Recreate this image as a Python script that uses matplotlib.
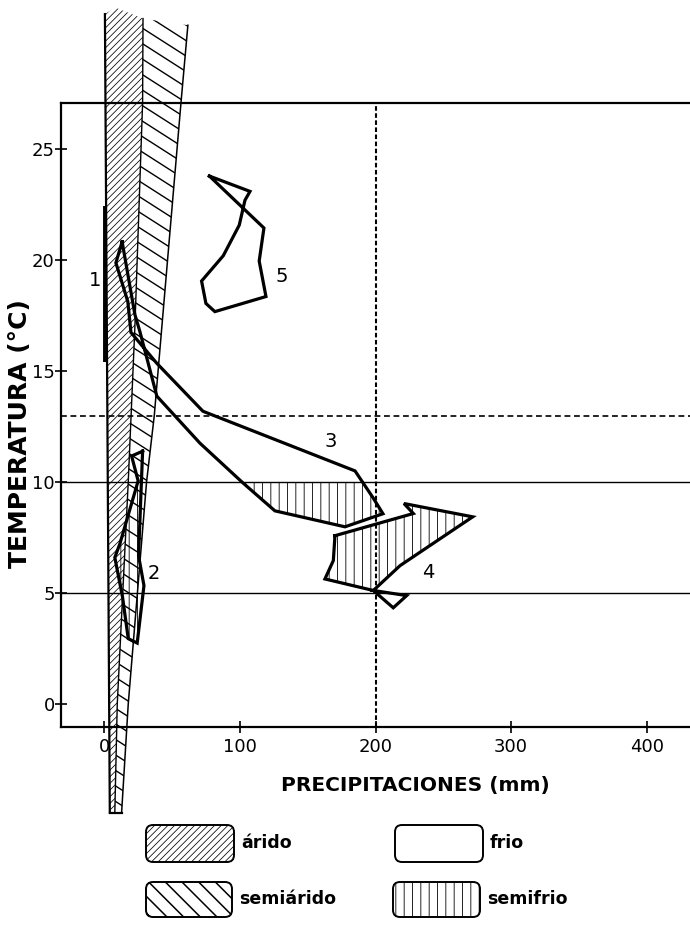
import numpy as np
import matplotlib
matplotlib.use('Agg')
import matplotlib.pyplot as plt
from matplotlib.lines import Line2D
from matplotlib.patches import Polygon, Rectangle, FancyBboxPatch

# zone boundaries (temperature in degC, precipitation in mm)
arid_left_t = [-4.9, 31.1]
arid_left_p = [4.0, 0.4]
arid_right_t = [-4.9, 0, 10, 17, 27.1, 30.9]
arid_right_p = [7.7, 9.5, 17.6, 22.5, 28.2, 28.5]
semi_right_t = [-4.9, 0, 10, 13, 27.1, 30.6]
semi_right_p = [12.7, 17.6, 31.1, 36.8, 56.5, 61.6]

# climate paths
c1_p = [0.5, 0.5]
c1_t = [15.4, 22.45]
c2_p = [28.2, 25.2, 29.2, 24.2, 17.6, 13.4, 7.7, 11.4, 24.9, 20.1]
c2_t = [11.4, 6.69, 5.34, 2.75, 2.95, 4.82, 6.61, 7.22, 10.06, 11.18]
c3_p = [13.1, 8.5, 17.3, 19.6, 38.7, 72.7, 184.9, 198.2, 205.5, 177.5,
        125.8, 102.2, 70.5, 38.7, 26.2, 22.5]
c3_t = [20.84, 19.89, 18.14, 16.75, 15.36, 13.2, 10.51, 9.3, 8.58, 7.99,
        8.71, 9.97, 11.76, 13.88, 16.79, 17.56]
c4_p = [170.1, 227.9, 221.0, 271.7, 218.1, 198.4, 223.0, 213.1, 198.4, 162.7, 168.9]
c4_t = [7.59, 8.59, 9.04, 8.44, 6.24, 5.12, 4.89, 4.34, 5.12, 5.64, 6.47]
c5_p = [77.5, 107.4, 103.7, 99.5, 87.7, 71.7, 74.9, 81.5, 119.2, 114.2, 117.7]
c5_t = [23.8, 23.11, 22.71, 21.59, 20.21, 19.07, 18.06, 17.69, 18.37, 19.97, 21.46]

labels = ['1', '2', '3', '4', '5']
label_p = [-7, 36.8, 167, 239, 130.8]
label_t = [19.1, 5.9, 11.85, 5.94, 19.26]

x_ticks = [0, 100, 200, 300, 400]
y_ticks = [0, 5, 10, 15, 20, 25]


def hatched(xy, hatch, hlw, transform=None, box=None):
    with plt.rc_context({'hatch.linewidth': hlw}):
        if box is None:
            p = Polygon(xy, closed=True, facecolor='none', edgecolor='black',
                        linewidth=0, hatch=hatch)
        else:
            p = FancyBboxPatch(box[:2], box[2], box[3],
                               boxstyle='round,pad=0,rounding_size=0.07',
                               facecolor='none', edgecolor='black',
                               linewidth=1.4, hatch=hatch, transform=transform)
    if hasattr(p, 'set_hatch_linewidth'):
        p.set_hatch_linewidth(hlw)
    return p


fig = plt.figure(figsize=(6.9, 9.25), dpi=100)
ax = fig.add_axes([61 / 690, 198.3 / 925, 629 / 690, 623.6 / 925])
ax.set_xlim(-32, 432)
ax.set_ylim(-1.02, 27.09)

# arid / semiarid wedges (they run past the frame)
arid_xy = (list(zip(arid_left_p, arid_left_t)) + [(8, 31.4)]
           + list(zip(arid_right_p[::-1], arid_right_t[::-1])))
semi_xy = (list(zip(arid_right_p, arid_right_t))
           + list(zip(semi_right_p[::-1], semi_right_t[::-1])))
arid = hatched(arid_xy, '/////', 0.55)
arid.set_clip_on(False)
arid.set_zorder(1)
ax.add_patch(arid)
semi = Polygon(semi_xy, closed=True, facecolor='none', edgecolor='none', zorder=1)
semi.set_clip_on(False)
ax.add_patch(semi)
# semiarid hatching: shallow slanted strokes, laid out in inches
for c in np.arange(1.2, 10.6, 0.155):
    ln = Line2D([0.5, 2.3], [c - 0.64 * 0.5, c - 0.64 * 2.3], color='black', lw=1.0,
                transform=fig.dpi_scale_trans, zorder=1)
    ln.set_clip_path(semi)
    ax.add_line(ln)

for pp, tt, lw in [(arid_left_p, arid_left_t, 1.6), (arid_right_p, arid_right_t, 1.0),
                   (semi_right_p, semi_right_t, 1.1)]:
    ax.plot(pp, tt, color='black', lw=lw, clip_on=False, zorder=1.5)
ax.plot([arid_left_p[0], semi_right_p[0]], [arid_left_t[0], semi_right_t[0]],
        color='black', lw=1.6, clip_on=False, zorder=1.5)

# reference lines
ax.axhline(10, color='black', lw=1.0, zorder=2)
ax.axhline(5, color='black', lw=1.0, zorder=2)
ax.axhline(13, color='black', lw=1.2, ls=(0, (3.5, 2.2)), zorder=2)
ax.axvline(200, color='black', lw=1.5, ls=(0, (2.2, 1.2)), zorder=2)

# semifrio hatch
for pp, tt, lo in [(c2_p, c2_t, -5), (c3_p, c3_t, 5), (c4_p, c4_t, 5)]:
    p = hatched(list(zip(pp, tt)), '||', 0.6)
    p.set_zorder(2.5)
    ax.add_patch(p)
    p.set_clip_path(Rectangle((-50, lo), 600, 10 - lo, transform=ax.transData))

# climate paths
ax.plot(c1_p, c1_t, color='black', lw=2.8, solid_capstyle='butt', zorder=3)
for pp, tt in [(c2_p, c2_t), (c3_p, c3_t), (c4_p, c4_t), (c5_p, c5_t)]:
    ax.plot(pp + pp[:1], tt + tt[:1], color='black', lw=2.3,
            solid_joinstyle='miter', zorder=3)
for s, px, py in zip(labels, label_p, label_t):
    ax.text(px, py, s, fontsize=14, ha='center', va='center', zorder=4)

# frame
ax.spines['right'].set_visible(False)
for side in ['left', 'top', 'bottom']:
    ax.spines[side].set_linewidth(1.6)
    ax.spines[side].set_zorder(5)
ax.set_xticks(x_ticks)
ax.set_yticks(y_ticks)
ax.tick_params(axis='both', direction='inout', length=8, width=1.2, labelsize=13)
ax.tick_params(axis='x', pad=4)
ax.tick_params(axis='y', pad=0.5)
ax.set_facecolor('none')

fig.text(20 / 690, 1 - 434 / 925, 'TEMPERATURA (°C)', rotation=90,
         ha='center', va='center', fontsize=18, fontweight='bold')
fig.text(415 / 690, 1 - 786 / 925, 'PRECIPITACIONES (mm)',
         ha='center', va='center', fontsize=14.5, fontweight='bold')

# legend boxes (inches from bottom-left)
legend = [('árido', '/////', 0.55, (1.46, 0.63, 0.88, 0.37)),
          ('semiárido', '\\\\', 1.1, (1.46, 0.08, 0.86, 0.35)),
          ('frio', None, 0.6, (3.95, 0.63, 0.88, 0.37)),
          ('semifrio', '||', 0.6, (3.93, 0.08, 0.87, 0.35))]
for name, h, lw, box in legend:
    p = hatched(None, h, lw, transform=fig.dpi_scale_trans, box=box)
    fig.add_artist(p)
    fig.text((box[0] + box[2] + 0.07) / 6.9, (box[1] + box[3] / 2) / 9.25, name,
             ha='left', va='center', fontsize=12.5, fontweight='bold')

fig.savefig('out.png', dpi=100)
